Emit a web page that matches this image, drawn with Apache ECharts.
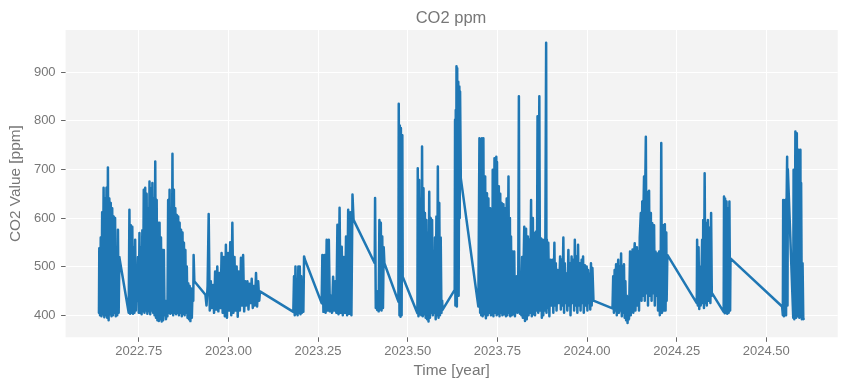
<!DOCTYPE html>
<html>
<head>
<meta charset="utf-8">
<script src="https://cdn.jsdelivr.net/npm/echarts@6/dist/echarts.min.js"></script>
<style>html,body{margin:0;padding:0;background:#fff}#c{width:847px;height:389px}</style>
</head>
<body>
<div id="c"></div>
<script>
// Tick values
const xTicks = [2022.75, 2023.00, 2023.25, 2023.50, 2023.75, 2024.00, 2024.25, 2024.50];
const yTicks = [400, 500, 600, 700, 800, 900];

const summer2022 = [[2022.639,405],[2022.640,538],[2022.642,400],[2022.644,560],[2022.646,398],[2022.648,612],[2022.650,402],[2022.652,662],[2022.654,396],[2022.656,640],[2022.658,400],[2022.660,662],[2022.662,395],[2022.664,704],[2022.666,390],[2022.668,640],[2022.670,402],[2022.672,631],[2022.674,398],[2022.676,620],[2022.678,400],[2022.680,603],[2022.682,405],[2022.684,600],[2022.686,398],[2022.688,534],[2022.690,400],[2022.692,576],[2022.694,405],[2022.696,520],[2022.697,514],
[2022.722,405],[2022.724,617],[2022.726,403],[2022.728,585],[2022.730,405],[2022.732,582],[2022.734,403],[2022.736,540],[2022.738,405],[2022.740,555],[2022.742,410],[2022.744,500],[2022.746,430],[2022.748,520],[2022.750,405]];

const autumn2022 = [[2022.752,569],[2022.754,405],[2022.756,540],[2022.758,402],[2022.760,575],[2022.762,408],[2022.764,658],[2022.766,405],[2022.768,662],[2022.770,410],[2022.772,650],[2022.774,403],[2022.776,620],[2022.778,408],[2022.780,675],[2022.782,402],[2022.784,660],[2022.786,410],[2022.788,672],[2022.790,405],[2022.792,640],[2022.794,400],[2022.796,716],[2022.798,395],[2022.800,637],[2022.802,390],[2022.804,590],[2022.806,388],[2022.808,590],[2022.810,392],[2022.812,560],[2022.814,387],[2022.816,534],[2022.818,390],[2022.820,534],[2022.822,400],[2022.824,430],[2022.826,392],[2022.828,425],[2022.830,398],
[2022.832,637],[2022.834,405],[2022.836,658],[2022.838,403],[2022.840,600],[2022.842,405],[2022.844,732],[2022.846,400],[2022.848,658],[2022.850,405],[2022.852,620],[2022.854,402],[2022.856,606],[2022.858,405],[2022.860,603],[2022.862,400],[2022.864,590],[2022.866,405],[2022.868,576],[2022.870,398],[2022.872,570],[2022.874,403],[2022.876,549],[2022.878,400],[2022.880,534],[2022.882,405],[2022.884,500],[2022.886,395],[2022.888,466],[2022.890,392],[2022.892,460],[2022.894,388],[2022.896,455],[2022.898,395],[2022.900,450],[2022.902,430],[2022.903,524],[2022.905,470]];

const winter2023 = [[2022.936,442],[2022.939,420],[2022.942,460],[2022.945,608],[2022.948,410],[2022.951,470],[2022.954,415],[2022.957,462],[2022.960,405],[2022.963,490],[2022.966,412],[2022.969,500],[2022.972,408],[2022.975,487],[2022.978,415],[2022.981,528],[2022.984,405],[2022.987,520],[2022.990,398],[2022.993,545],[2022.996,395],[2022.999,528],[2023.002,410],[2023.005,550],[2023.008,400],[2023.011,590],[2023.014,405],[2023.017,520],[2023.020,410],[2023.023,500],[2023.026,397],[2023.029,490],[2023.032,410],[2023.035,518],[2023.038,420],[2023.041,524],[2023.044,408],[2023.047,470],[2023.050,420],[2023.053,470],[2023.056,412],[2023.059,465],[2023.062,425],[2023.065,475],[2023.068,415],[2023.071,460],[2023.074,420],[2023.077,487],[2023.080,418],[2023.083,470],[2023.086,430],[2023.088,449]];

const spring2023 = [[2023.181,407],[2023.183,480],[2023.185,400],[2023.187,500],[2023.189,403],[2023.191,470],[2023.193,400],[2023.195,500],[2023.197,405],[2023.199,500],[2023.201,402],[2023.203,480],[2023.205,405],[2023.207,460],[2023.209,407],[2023.211,521],[2023.213,515],
[2023.260,425],[2023.262,524],[2023.265,407],[2023.268,524],[2023.271,405],[2023.274,555],[2023.277,410],[2023.280,555],[2023.283,408],[2023.286,440],[2023.289,405],[2023.292,479],[2023.295,410],[2023.298,470],[2023.301,405],[2023.304,586],[2023.307,402],[2023.310,621],[2023.313,405],[2023.316,541],[2023.319,400],[2023.322,520],[2023.325,405],[2023.328,562],[2023.331,400],[2023.334,617],[2023.337,403],[2023.340,612],[2023.343,400],[2023.346,648],[2023.349,596]];

const summer2023 = [[2023.408,507],[2023.409,641],[2023.411,415],[2023.413,450],[2023.415,411],[2023.417,438],[2023.419,408],[2023.421,596],[2023.423,412],[2023.425,590],[2023.427,410],[2023.429,562],[2023.431,415],[2023.433,540],[2023.435,507],
[2023.474,428],[2023.475,835],[2023.477,400],[2023.478,790],[2023.480,397],[2023.481,785],[2023.483,400],[2023.485,770],[2023.486,479],
[2023.527,404],[2023.528,702],[2023.530,398],[2023.532,678],[2023.534,402],[2023.536,640],[2023.538,400],[2023.540,747],[2023.542,398],[2023.544,661],[2023.546,402],[2023.548,610],[2023.550,395],[2023.552,596],[2023.554,392],[2023.556,570],[2023.558,387],[2023.560,654],[2023.562,395],[2023.564,600],[2023.566,405],[2023.568,596],[2023.570,400],[2023.572,520],[2023.574,405],[2023.576,560],[2023.578,392],[2023.580,603],[2023.582,400],[2023.584,706],[2023.586,395],[2023.588,631],[2023.590,400],[2023.592,560],[2023.594,405],[2023.596,430],[2023.597,411],
[2023.631,452],[2023.632,802],[2023.633,420],[2023.634,822],[2023.635,430],[2023.636,912],[2023.637,418],[2023.638,908],[2023.639,450],[2023.641,880],[2023.642,440],[2023.644,870],[2023.645,600],[2023.646,860],[2023.648,682]];

const autumn2023 = [[2023.697,418],[2023.700,764],[2023.702,405],[2023.704,760],[2023.705,400],[2023.707,764],[2023.709,398],[2023.711,764],[2023.713,402],[2023.716,685],[2023.718,394],[2023.721,651],[2023.723,400],[2023.725,640],[2023.727,405],[2023.730,620],[2023.732,400],[2023.735,580],[2023.736,402],[2023.737,699],[2023.739,398],[2023.742,723],[2023.744,405],[2023.747,726],[2023.748,400],[2023.749,715],[2023.751,403],[2023.754,665],[2023.756,398],[2023.758,650],[2023.760,405],[2023.762,631],[2023.764,400],[2023.767,628],[2023.769,402],[2023.772,620],[2023.774,398],[2023.776,640],[2023.778,400],[2023.781,685],[2023.783,405],[2023.785,600],[2023.786,398],[2023.788,562],[2023.790,400],[2023.793,531],[2023.795,402],[2023.797,531],[2023.799,398],[2023.802,400],[2023.804,480],[2023.806,405],[2023.808,420],[2023.810,850],[2023.811,521],[2023.813,403],[2023.815,480],[2023.817,400],[2023.819,520],[2023.821,395],[2023.823,500],[2023.825,582],[2023.827,388],[2023.830,578],[2023.832,392],[2023.835,562],[2023.837,400],[2023.839,555],[2023.841,405],[2023.844,637],[2023.846,398],[2023.849,600],[2023.851,402],[2023.853,569],[2023.855,400],[2023.858,572],[2023.860,410],[2023.862,809],[2023.864,405],[2023.867,850],[2023.869,410],[2023.872,558],[2023.874,395],[2023.876,555],[2023.878,400],[2023.881,555],[2023.883,410],[2023.886,960],[2023.887,405],[2023.888,555],[2023.890,415],[2023.892,549],[2023.895,398],[2023.898,514],[2023.901,420],[2023.904,514],[2023.906,405],[2023.909,549],[2023.911,420],[2023.913,507],[2023.915,410],[2023.918,493],[2023.921,425],[2023.925,521],[2023.927,412],[2023.929,514],[2023.931,420],[2023.934,560],[2023.936,405],[2023.938,507],[2023.940,425],[2023.943,486],[2023.945,410],[2023.948,534],[2023.950,420],[2023.952,507],[2023.954,400],[2023.957,521],[2023.959,425],[2023.962,514],[2023.964,410],[2023.966,555],[2023.968,420],[2023.971,521],[2023.973,405],[2023.975,545],[2023.977,420],[2023.980,507],[2023.982,410],[2023.985,514],[2023.987,425],[2023.989,521],[2023.991,405],[2023.994,503],[2023.996,420],[2023.999,500],[2024.001,410],[2024.003,493],[2024.005,425],[2024.008,486],[2024.009,412],[2024.011,507],[2024.013,420],[2024.015,497],[2024.018,430],[2024.020,428]];

const spring2024 = [[2024.071,414],[2024.073,480],[2024.075,405],[2024.077,493],[2024.079,410],[2024.081,505],[2024.083,400],[2024.085,480],[2024.087,514],[2024.089,405],[2024.091,500],[2024.093,410],[2024.095,527],[2024.097,398],[2024.099,500],[2024.101,405],[2024.103,505],[2024.105,395],[2024.107,470],[2024.109,390],[2024.111,440],[2024.113,384],[2024.115,430],[2024.117,392],
[2024.118,395],[2024.120,531],[2024.122,400],[2024.124,500],[2024.127,535],[2024.129,405],[2024.131,520],[2024.133,548],[2024.135,410],[2024.137,500],[2024.139,540],[2024.141,420],[2024.143,531],[2024.145,410],[2024.147,560],[2024.150,610],[2024.152,430],[2024.154,634],[2024.156,440],[2024.157,600],[2024.159,685],[2024.161,430],[2024.162,640],[2024.164,767],[2024.166,445],[2024.168,654],[2024.170,420],[2024.173,656],[2024.175,440],[2024.176,580],[2024.178,610],[2024.180,430],[2024.182,589],[2024.184,445],[2024.185,560],[2024.187,585],[2024.189,420],[2024.191,531],[2024.193,440],[2024.194,500],[2024.196,527],[2024.198,410],[2024.199,480],[2024.201,531],[2024.203,400],[2024.205,420],[2024.207,754],[2024.209,405],[2024.210,520],[2024.212,585],[2024.214,410],[2024.215,560],[2024.217,587],[2024.219,410],[2024.221,570],[2024.222,430],[2024.224,524]];

const summer2024 = [[2024.306,425],[2024.307,555],[2024.309,420],[2024.311,540],[2024.313,413],[2024.315,500],[2024.317,420],[2024.319,480],[2024.321,555],[2024.323,425],[2024.324,596],[2024.326,415],[2024.328,692],[2024.330,425],[2024.332,590],[2024.334,420],[2024.337,596],[2024.339,430],[2024.342,580],[2024.344,425],[2024.346,610],[2024.348,440],[2024.349,445],
[2024.381,407],[2024.382,644],[2024.384,404],[2024.385,640],[2024.387,405],[2024.389,634],[2024.391,403],[2024.393,620],[2024.395,405],[2024.397,634],[2024.399,410],[2024.400,517],
[2024.544,418],[2024.546,400],[2024.547,637],[2024.549,398],[2024.551,560],[2024.553,637],[2024.555,400],[2024.556,600],[2024.558,726],[2024.559,420],[2024.560,700],[2024.575,395],[2024.576,699],[2024.578,392],[2024.580,600],[2024.581,778],[2024.583,395],[2024.585,774],[2024.587,398],[2024.588,700],[2024.590,740],[2024.592,395],[2024.593,650],[2024.595,740],[2024.596,400],[2024.597,672],[2024.599,392],[2024.601,507],[2024.603,395],[2024.604,392]];

const series = [].concat(summer2022, autumn2022, winter2023, spring2023, summer2023, autumn2023, spring2024, summer2024);

const FONT = '"Liberation Sans", Arial, Helvetica, sans-serif';
const GRAY = '#777777';

const chart = echarts.init(document.getElementById('c'), null, {renderer: 'canvas'});
chart.setOption({
  animation: false,
  backgroundColor: '#ffffff',
  textStyle: {fontFamily: FONT},
  title: {
    text: 'CO2 ppm',
    left: 446,
    textAlign: 'center',
    top: 5,
    textStyle: {color: GRAY, fontSize: 16.5, fontWeight: 'normal', fontFamily: FONT}
  },
  grid: {
    left: 63, right: 9.3, top: 30, bottom: 51.7,
    show: true, backgroundColor: '#f3f3f3', borderWidth: 0
  },
  xAxis: {
    type: 'value',
    min: 2022.546, max: 2024.699,
    name: 'Time [year]',
    nameLocation: 'middle',
    nameGap: 26,
    nameTextStyle: {color: GRAY, fontSize: 15.4, fontFamily: FONT},
    axisLine: {show: false},
    axisTick: {show: true, customValues: xTicks, length: 4.5, lineStyle: {color: '#666666', width: 1}},
    axisLabel: {customValues: xTicks, color: GRAY, fontSize: 13, margin: 8, fontFamily: FONT,
      formatter: v => v.toFixed(2)},
    splitLine: {show: true, lineStyle: {color: '#ffffff', width: 1}}
  },
  yAxis: {
    type: 'value',
    min: 354.7, max: 986.4,
    name: 'CO2 Value [ppm]',
    nameLocation: 'middle',
    nameGap: 39,
    nameTextStyle: {color: GRAY, fontSize: 15.4, fontFamily: FONT},
    axisLine: {show: false},
    axisTick: {show: true, customValues: yTicks, length: 4.5, lineStyle: {color: '#666666', width: 1}},
    axisLabel: {customValues: yTicks, color: GRAY, fontSize: 13, margin: 10, fontFamily: FONT},
    splitLine: {show: true, lineStyle: {color: '#ffffff', width: 1}}
  },
  series: [{
    type: 'line',
    data: series,
    showSymbol: false,
    sampling: null,
    lineStyle: {color: '#1f77b4', width: 2.5, join: 'round', cap: 'round'},
    itemStyle: {color: '#1f77b4'}
  }]
});
</script>
</body>
</html>
